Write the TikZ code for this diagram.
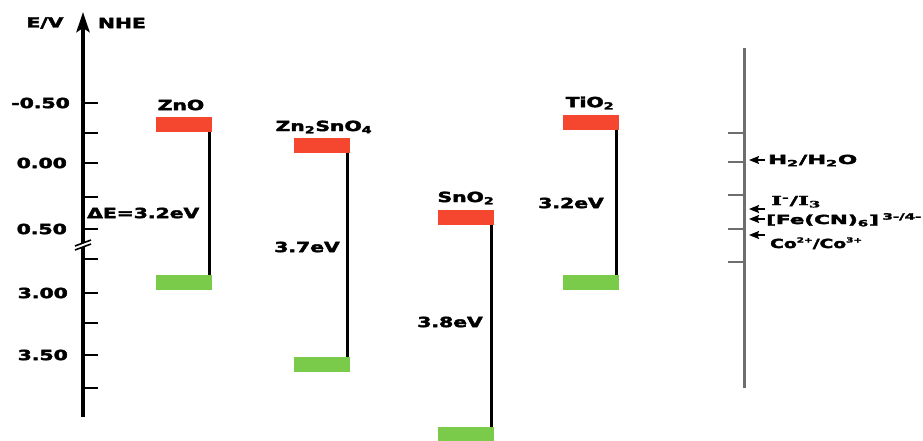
\documentclass[tikz,border=0pt]{standalone}
\usepackage{fontspec}
\setmainfont{DejaVu Sans}[BoldFeatures={FakeBold=2.5}]
\newfontfamily\ionserif{DejaVu Serif}[BoldFeatures={FakeBold=2}]
\usetikzlibrary{arrows.meta}
\definecolor{cbred}{HTML}{F5472F}
\definecolor{vbgreen}{HTML}{7BCB4B}
\definecolor{refgray}{HTML}{6E6E6E}
% horizontally widened lettering
\newcommand{\widetext}[1]{\scalebox{1.45}[1]{#1}}
% stretch a label to a given width, keeping its height
\newcommand{\fitto}[2]{\resizebox{#1}{\height}{#2}}
% small raised charge
\newcommand{\chg}[1]{\raisebox{5.5pt}{\fontsize{7}{8}\selectfont #1}}
\begin{document}
\begin{tikzpicture}[x=1pt,y=-1pt,
  axisline/.style={line width=4pt, black},
  tickmark/.style={line width=2pt, black},
  reftick/.style={line width=1.8pt, refgray},
  band/.style={rectangle, draw=none, inner sep=0pt, minimum width=56pt, minimum height=15pt},
  cb/.style={band, fill=cbred},
  vb/.style={band, fill=vbgreen},
  gapline/.style={line width=2.8pt, black},
  lbl/.style={font=\bfseries\fontsize{14}{16}\selectfont, inner sep=0pt},
  rlbl/.style={font=\bfseries\fontsize{12.5}{14}\selectfont, inner sep=0pt, anchor=base west},
  couple/.style={line width=1.4pt, -{Stealth[length=10pt,width=8pt,inset=1.5pt]}}]
\useasboundingbox (0,0) rectangle (923,440);

% potential axis (NHE)
\coordinate (axbot) at (83,417);
\coordinate (axtop) at (83,12);
\draw[axisline, -{Stealth[length=20pt,width=13pt,inset=4pt]}] (axbot) -- (axtop);
\foreach \yy in {103,133,163,197,229,259,293,323,355,388}
  \draw[tickmark] (83,\yy) -- (98,\yy);
% axis break
\fill[white] (75,246) -- (91,240) -- (91,244) -- (75,250) -- cycle;
\draw[line width=1.6pt] (75,246) -- (91,240) (75,250) -- (91,244);

\node[lbl] (ev) at (45,23) {\widetext{E/V}};
\node[lbl] (nhe) at (122,23) {\widetext{NHE}};
\node[lbl, anchor=east] (t1) at (70,103) {\widetext{-0.50}};
\node[lbl, anchor=east] (t2) at (67,163) {\widetext{0.00}};
\node[lbl, anchor=east] (t3) at (67,229) {\widetext{0.50}};
\node[lbl, anchor=east] (t4) at (68,293) {\widetext{3.00}};
\node[lbl, anchor=east] (t5) at (68,355) {\widetext{3.50}};

% ZnO
\node[cb] (zr) at (183.5,124.5) {};
\node[vb] (zg) at (184,282.5) {};
\draw[gapline] ([xshift=-2.5pt]zr.south east) -- ([xshift=-2.5pt]zr.south east |- zg.north);
\node[lbl] (zname) at (181,105) {\widetext{ZnO}};
\node[lbl, anchor=west] (zgap) at (87,213) {\widetext{ΔE=3.2eV}};

% Zn2SnO4
\node[cb] (zsr) at (321.5,145) {};
\node[vb] (zsg) at (321.5,364.5) {};
\draw[gapline] ([xshift=-2.5pt]zsr.south east) -- ([xshift=-2.5pt]zsr.south east |- zsg.north);
\node[lbl] (zsname) at (324,127) {\widetext{Zn\textsubscript{2}SnO\textsubscript{4}}};
\node[lbl] (zsgap) at (307,247) {\widetext{3.7eV}};

% SnO2
\node[cb] (sr) at (465.5,217.5) {};
\node[vb] (sg) at (465.5,434.5) {};
\draw[gapline] ([xshift=-2.5pt]sr.south east) -- ([xshift=-2.5pt]sr.south east |- sg.north);
\node[lbl] (sname) at (466,198) {\widetext{SnO\textsubscript{2}}};
\node[lbl] (sgap) at (450,322) {\widetext{3.8eV}};

% TiO2
\node[cb] (tr) at (590.5,122) {};
\node[vb] (tg) at (590.5,282.5) {};
\draw[gapline] ([xshift=-2.5pt]tr.south east) -- ([xshift=-2.5pt]tr.south east |- tg.north);
\node[lbl] (tname) at (590,103) {\widetext{TiO\textsubscript{2}}};
\node[lbl] (tgap) at (571,203) {\widetext{3.2eV}};

% redox couples
\coordinate (rbot) at (744,388);
\coordinate (rtop) at (744,48);
\draw[line width=3pt, refgray] (rbot) -- (rtop);
\foreach \yy in {133,162,195,229,262}
  \draw[reftick] (728,\yy) -- (744,\yy);

\coordinate (h1) at (765,160);  \coordinate (h2) at (749,160);
\coordinate (i1) at (765,209);  \coordinate (i2) at (749,209);
\coordinate (f1) at (765,219);  \coordinate (f2) at (749,219);
\coordinate (c1) at (765,235);  \coordinate (c2) at (749,235);
\draw[couple] (h1) -- (h2);
\draw[couple] (i1) -- (i2);
\draw[couple] (f1) -- (f2);
\draw[couple] (c1) -- (c2);

\node[rlbl] (hl) at (768,164) {\fitto{89pt}{H\textsubscript{2}/H\textsubscript{2}O}};
\node[rlbl] (il) at (771,205) {\fitto{50pt}{\ionserif I\textsuperscript{-}/I\textsubscript{3}}};
\node[rlbl] (fl) at (766,224) {\fitto{156pt}{[Fe(CN)\textsubscript{6}]\,\textsuperscript{3-/4-}}};
\node[rlbl] (cl) at (770,248) {\fitto{92pt}{Co\chg{2+}/Co\chg{3+}}};
\end{tikzpicture}
\end{document}
